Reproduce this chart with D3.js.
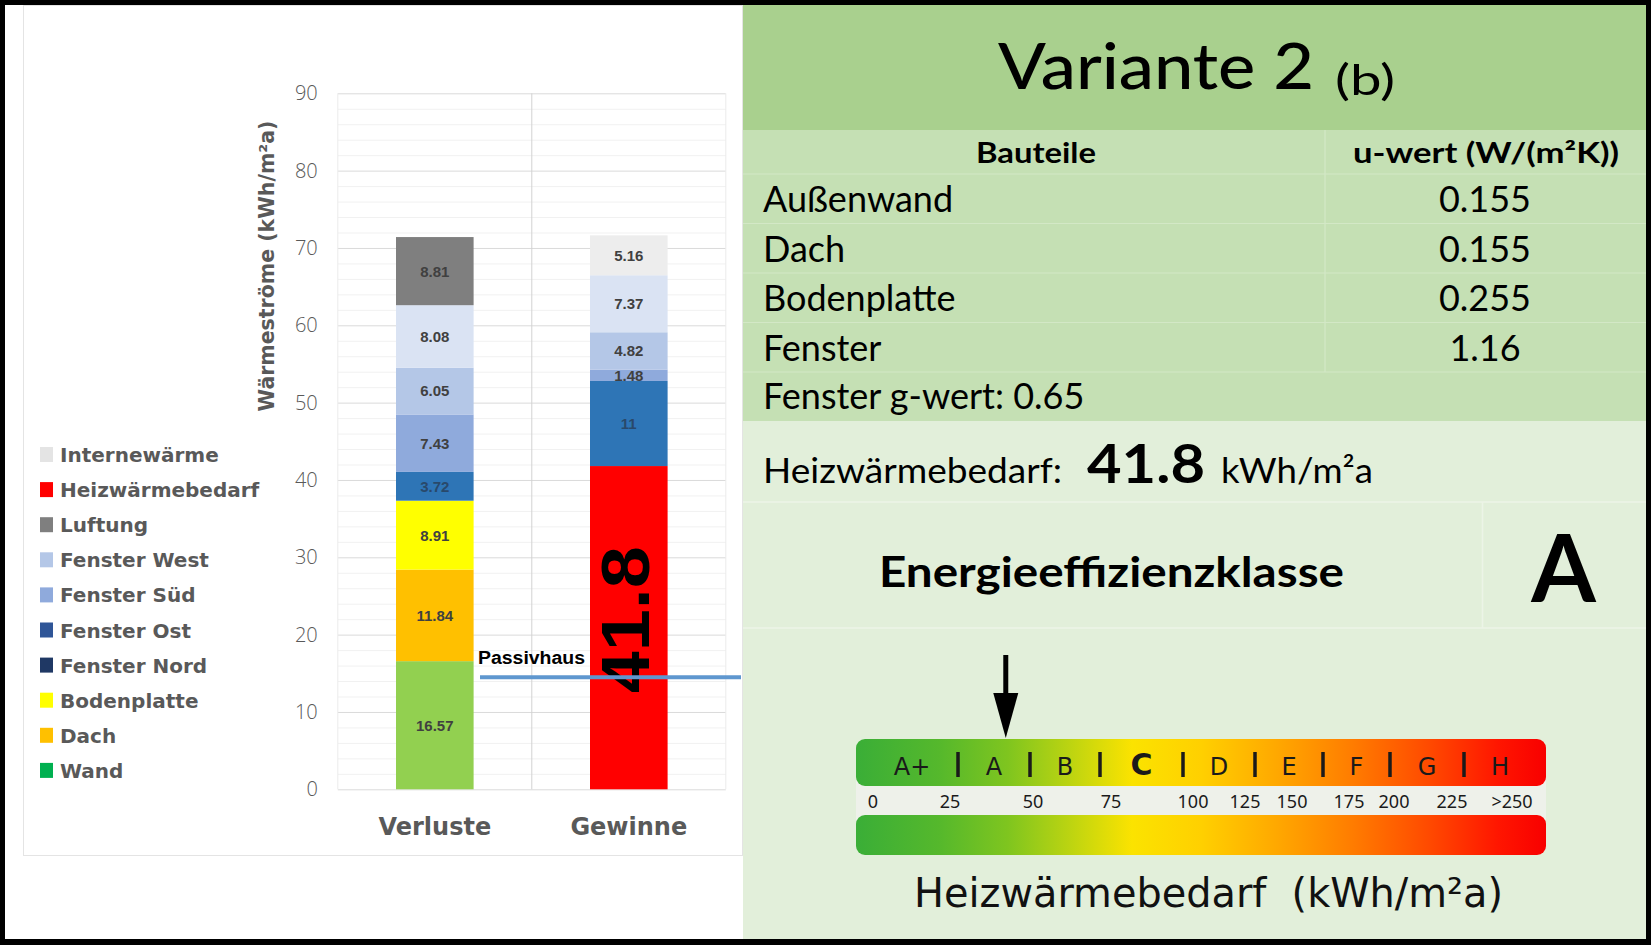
<!DOCTYPE html>
<html>
<head>
<meta charset="utf-8">
<script src="https://cdn.jsdelivr.net/npm/d3@7"></script>
<style>
  html, body { margin: 0; padding: 0; background: #000; }
  svg { display: block; }
</style>
</head>
<body>
<svg id="chart" width="1651" height="945"></svg>
<script>
// ---------- heat balance chart data ----------
const categories = ["Verluste", "Gewinne"];
const seriesNames = ["Wand", "Dach", "Bodenplatte", "Heizwärmebedarf", "Fenster Nord",
                     "Fenster Ost", "Fenster Süd", "Fenster West", "Luftung", "Internewärme"];
const verlusteValues = [16.57, 11.84, 8.91, 0, 3.72, 7.43, 6.05, 8.08, 8.81, 0];
const gewinneValues  = [0, 0, 0, 41.8, 11, 1.48, 4.82, 7.37, 0, 5.16];
const barColors = ["#92d050", "#ffc000", "#ffff00", "#ff0000", "#2e75b6",
                   "#8faadc", "#b4c7e7", "#dae3f3", "#7f7f7f", "#ededed"];
const legendNames = ["Internewärme", "Heizwärmebedarf", "Luftung", "Fenster West", "Fenster Süd",
                     "Fenster Ost", "Fenster Nord", "Bodenplatte", "Dach", "Wand"];
const legendColors = ["#e4e4e4", "#ff0000", "#7f7f7f", "#b4c7e7", "#8faadc",
                      "#2f5597", "#1f3864", "#ffff00", "#ffc000", "#00b050"];
const yTicks = [0, 10, 20, 30, 40, 50, 60, 70, 80, 90];
const yAxisTitle = "Wärmeströme (kWh/m²a)";
const passivhausLabel = "Passivhaus";
const passivhausValue = 14.5;
const highlightSeries = "Heizwärmebedarf";

// ---------- building data ----------
const variantTitle = "Variante 2";
const variantSub = "(b)";
const tableHeader = ["Bauteile", "u-wert (W/(m²K))"];
const bauteile = ["Außenwand", "Dach", "Bodenplatte", "Fenster"];
const uWerte = ["0.155", "0.155", "0.255", "1.16"];
const gWert = "0.65";
const heizwaermebedarf = 41.8;
const effizienzklasse = "A";

// ---------- energy class scale ----------
const klassen = ["A+", "A", "B", "C", "D", "E", "F", "G", "H"];
const skalaWerte = [0, 25, 50, 75, 100, 125, 150, 175, 200, 225, 250];
const skalaLabels = ["0", "25", "50", "75", "100", "125", "150", "175", "200", "225", ">250"];

const svg = d3.select("#chart");
const W = 1651, H = 945;

// frame
svg.append("rect").attr("width", W).attr("height", H).attr("fill", "#000");
svg.append("rect").attr("x", 5).attr("y", 5).attr("width", 738).attr("height", 934).attr("fill", "#fff");
svg.append("rect").attr("x", 23.5).attr("y", 5.5).attr("width", 719).attr("height", 850)
  .attr("fill", "none").attr("stroke", "#e4e4e4");

// ================= left: stacked bars =================
const plot = { left: 337.8, right: 725.8, top: 93.3, bottom: 789.3 };
const y = d3.scaleLinear().domain([0, 90]).range([plot.bottom, plot.top]);
const x = d3.scaleBand().domain(categories).range([plot.left, plot.right])
  .paddingInner(0.6).paddingOuter(0.3);

const color = d3.scaleOrdinal().domain(seriesNames).range(barColors);

const g = svg.append("g");

// minor grid every 2 units
const minor = d3.range(0, 91, 2).filter(v => v % 10 !== 0);
g.append("g").selectAll("line").data(minor).join("line")
  .attr("x1", plot.left).attr("x2", plot.right)
  .attr("y1", d => y(d) + 0.5).attr("y2", d => y(d) + 0.5)
  .attr("stroke", "#f1f1f1").attr("stroke-width", 1);

// major grid
g.append("g").selectAll("line").data(yTicks).join("line")
  .attr("x1", plot.left).attr("x2", plot.right)
  .attr("y1", d => y(d) + 0.5).attr("y2", d => y(d) + 0.5)
  .attr("stroke", "#dadada").attr("stroke-width", 1);

// vertical frame lines and category divider
const vlines = [
  { x: plot.left, c: "#ececec" },
  { x: (plot.left + plot.right) / 2, c: "#d2d2d2" },
  { x: plot.right, c: "#ececec" }
];
g.append("g").selectAll("line").data(vlines).join("line")
  .attr("x1", d => d.x).attr("x2", d => d.x)
  .attr("y1", plot.top).attr("y2", plot.bottom)
  .attr("stroke", d => d.c).attr("stroke-width", 1);

// y axis
const yAxis = g.append("g").attr("transform", `translate(${plot.left},0)`)
  .call(d3.axisLeft(y).tickValues(yTicks).tickSize(0).tickPadding(20));
yAxis.select(".domain").remove();
yAxis.selectAll("text")
  .attr("font-family", "'Open Sans', 'Liberation Sans', sans-serif")
  .attr("font-weight", 300)
  .attr("font-size", 20)
  .attr("fill", "#595959");

// y axis title
g.append("text")
  .attr("transform", `translate(274,266) rotate(-90)`)
  .attr("text-anchor", "middle")
  .attr("font-family", "'DejaVu Sans', sans-serif")
  .attr("font-weight", "bold")
  .attr("font-size", 20.5)
  .attr("fill", "#595959")
  .text(yAxisTitle);

// x axis labels
const xAxis = g.append("g").attr("transform", `translate(0,${plot.bottom})`)
  .call(d3.axisBottom(x).tickSize(0));
xAxis.select(".domain").remove();
xAxis.selectAll("text")
  .attr("y", 46).attr("dy", 0)
  .attr("font-family", "'DejaVu Sans', sans-serif")
  .attr("font-weight", "bold")
  .attr("font-size", 24)
  .attr("fill", "#595959");

// stacked data
const rows = categories.map((c, i) => {
  const vals = i === 0 ? verlusteValues : gewinneValues;
  const r = { category: c };
  seriesNames.forEach((s, j) => r[s] = vals[j]);
  return r;
});
const stacked = d3.stack().keys(seriesNames)(rows);

const layers = g.append("g").selectAll("g").data(stacked).join("g")
  .attr("fill", d => color(d.key));
layers.selectAll("rect").data(d => d.map(p => ({ key: d.key, p })))
  .join("rect")
  .attr("x", d => x(d.p.data.category))
  .attr("width", x.bandwidth())
  .attr("y", d => y(d.p[1]))
  .attr("height", d => y(d.p[0]) - y(d.p[1]));

// segment value labels (value taken straight from the series arrays)
const segs = [];
stacked.forEach(layer => layer.forEach(p => {
  const v = p.data[layer.key];
  if (v > 0 && layer.key !== highlightSeries) segs.push({ key: layer.key, p, v });
}));
g.append("g").selectAll("text").data(segs).join("text")
  .attr("x", d => x(d.p.data.category) + x.bandwidth() / 2)
  .attr("y", d => y((d.p[0] + d.p[1]) / 2))
  .attr("dy", "0.36em")
  .attr("text-anchor", "middle")
  .attr("font-family", "'Liberation Sans', Arial, sans-serif")
  .attr("font-weight", "bold")
  .attr("font-size", 15)
  .attr("fill", d => (d.key === "Fenster Nord" ? "#29496b" : "#404040"))
  .text(d => d.v);

// big label for the heating demand segment
const hIdx = seriesNames.indexOf(highlightSeries);
const hVal = gewinneValues[hIdx];
g.append("text")
  .attr("transform", `translate(${x("Gewinne") + x.bandwidth() / 2 + 20.5},${y(hVal / 2) - 8}) rotate(-90)`)
  .attr("text-anchor", "middle")
  .attr("font-family", "'Liberation Sans', Arial, sans-serif")
  .attr("font-weight", "bold")
  .attr("font-size", 68)
  .attr("textLength", 147)
  .attr("lengthAdjust", "spacingAndGlyphs")
  .attr("fill", "#000")
  .text(hVal);

// Passivhaus reference line
g.append("line")
  .attr("x1", 480).attr("x2", 741)
  .attr("y1", y(passivhausValue)).attr("y2", y(passivhausValue))
  .attr("stroke", "#5f97cf").attr("stroke-width", 4);
g.append("text")
  .attr("x", 478).attr("y", y(passivhausValue) - 13)
  .attr("font-family", "'Liberation Sans', Arial, sans-serif")
  .attr("font-weight", "bold")
  .attr("font-size", 18)
  .attr("textLength", 107)
  .attr("lengthAdjust", "spacingAndGlyphs")
  .attr("fill", "#000")
  .text(passivhausLabel);

// legend
const legend = g.append("g").selectAll("g").data(legendNames).join("g")
  .attr("transform", (d, i) => `translate(40,${462 + i * 35.1})`);
legend.append("rect")
  .attr("x", 0).attr("y", -15).attr("width", 13).attr("height", 15)
  .attr("fill", (d, i) => legendColors[i]);
legend.append("text")
  .attr("x", 20).attr("y", 0)
  .attr("font-family", "'DejaVu Sans', sans-serif")
  .attr("font-weight", "bold")
  .attr("font-size", 20)
  .attr("fill", "#595959")
  .text(d => d);

// ================= right: building summary =================
const R = svg.append("g");
const px0 = 743, px1 = 1646;
R.append("rect").attr("x", px0).attr("y", 5).attr("width", px1 - px0).attr("height", 125).attr("fill", "#a9d08e");
R.append("rect").attr("x", px0).attr("y", 130).attr("width", px1 - px0).attr("height", 291).attr("fill", "#c5e0b4");
R.append("rect").attr("x", px0).attr("y", 421).attr("width", px1 - px0).attr("height", 518).attr("fill", "#e2efda");

const bodyFont = "Lato, 'Open Sans', sans-serif";

// title
const title = R.append("text").attr("y", 89).attr("font-family", bodyFont).attr("fill", "#000");
title.append("tspan").attr("x", 998).attr("font-size", 64).attr("font-weight", 500)
  .attr("textLength", 316).attr("lengthAdjust", "spacingAndGlyphs").text(variantTitle);
title.append("tspan").attr("x", 1335).attr("dy", 6).attr("font-size", 42)
  .attr("textLength", 60).attr("lengthAdjust", "spacingAndGlyphs").text(variantSub);

// table grid
const rowBand = d3.scaleBand().domain(d3.range(bauteile.length)).range([174, 372]);
const rowLines = [174, ...bauteile.map((d, i) => rowBand(i) + rowBand.step())];
R.append("g").selectAll("line").data(rowLines).join("line")
  .attr("x1", px0).attr("x2", px1).attr("y1", d => d).attr("y2", d => d)
  .attr("stroke", "#d3e8c6").attr("stroke-width", 1.2);
R.append("line").attr("x1", 1325).attr("x2", 1325).attr("y1", 130).attr("y2", 372)
  .attr("stroke", "#d3e8c6").attr("stroke-width", 1.2);

// header row
R.append("text").attr("x", 1036).attr("y", 163).attr("text-anchor", "middle")
  .attr("font-family", bodyFont).attr("font-weight", "bold").attr("font-size", 28)
  .attr("textLength", 120).attr("lengthAdjust", "spacingAndGlyphs")
  .text(tableHeader[0]);
R.append("text").attr("x", 1486).attr("y", 163).attr("text-anchor", "middle")
  .attr("font-family", bodyFont).attr("font-weight", "bold").attr("font-size", 28)
  .attr("textLength", 266).attr("lengthAdjust", "spacingAndGlyphs")
  .text(tableHeader[1]);

// component rows
const rowG = R.append("g").selectAll("g").data(bauteile).join("g")
  .attr("transform", (d, i) => `translate(0,${rowBand(i) + 38})`);
rowG.append("text").attr("x", 763)
  .attr("font-family", bodyFont).attr("font-size", 36)
  .text(d => d);
rowG.append("text").attr("x", 1485).attr("text-anchor", "middle")
  .attr("font-family", bodyFont).attr("font-size", 36)
  .text((d, i) => uWerte[i]);

R.append("text").attr("x", 763).attr("y", 409)
  .attr("font-family", bodyFont).attr("font-size", 36)
  .text(`Fenster g-wert: ${gWert}`);

// heating demand line
const hw = R.append("text").attr("y", 483).attr("font-family", bodyFont).attr("fill", "#000");
hw.append("tspan").attr("x", 763).attr("font-size", 34)
  .attr("textLength", 299).attr("lengthAdjust", "spacingAndGlyphs").text("Heizwärmebedarf:");
hw.append("tspan").attr("x", 1087).attr("font-size", 54).attr("font-weight", "bold")
  .attr("textLength", 118).attr("lengthAdjust", "spacingAndGlyphs").text(heizwaermebedarf);
hw.append("tspan").attr("x", 1221).attr("font-size", 34)
  .attr("textLength", 152).attr("lengthAdjust", "spacingAndGlyphs").text("kWh/m²a");

// faint cell lines in lower section
R.append("line").attr("x1", px0).attr("x2", px1).attr("y1", 502).attr("y2", 502)
  .attr("stroke", "#ecf4e7").attr("stroke-width", 1.5);
R.append("line").attr("x1", px0).attr("x2", px1).attr("y1", 628).attr("y2", 628)
  .attr("stroke", "#ecf4e7").attr("stroke-width", 1.5);
R.append("line").attr("x1", 1482.5).attr("x2", 1482.5).attr("y1", 502).attr("y2", 628)
  .attr("stroke", "#ecf4e7").attr("stroke-width", 1.5);

R.append("text").attr("x", 879).attr("y", 587)
  .attr("font-family", bodyFont).attr("font-weight", "bold").attr("font-size", 42)
  .attr("textLength", 465).attr("lengthAdjust", "spacingAndGlyphs")
  .text("Energieeffizienzklasse");
R.append("text").attr("x", 1563.5).attr("y", 602).attr("text-anchor", "middle")
  .attr("font-family", bodyFont).attr("font-weight", "bold").attr("font-size", 93)
  .text(effizienzklasse);

// ---------- energy class bar ----------
const barX0 = 856, barX1 = 1546;
const eScale = d3.scaleLinear().domain(skalaWerte)
  .range([873, 950, 1033, 1111, 1193, 1245, 1292, 1349, 1394, 1452, 1512]);

const defs = svg.append("defs");
const grad = defs.append("linearGradient").attr("id", "klassenGrad")
  .attr("x1", "0%").attr("x2", "100%").attr("y1", "0%").attr("y2", "0%");
[
  [0, "#3aae37"], [0.12, "#55b82c"], [0.22, "#7fc51f"], [0.31, "#bcd411"],
  [0.40, "#fbe300"], [0.50, "#ffd000"], [0.61, "#ffa800"], [0.72, "#ff7c00"],
  [0.83, "#ff4a00"], [0.93, "#ff1600"], [1, "#f80000"]
].forEach(([o, c]) => grad.append("stop").attr("offset", o).attr("stop-color", c));

R.append("rect").attr("x", barX0).attr("y", 780).attr("width", barX1 - barX0).attr("height", 40)
  .attr("fill", "#eef1ea");
R.append("rect").attr("x", barX0).attr("y", 739).attr("width", barX1 - barX0).attr("height", 47)
  .attr("rx", 9).attr("fill", "url(#klassenGrad)");
R.append("rect").attr("x", barX0).attr("y", 815).attr("width", barX1 - barX0).attr("height", 40)
  .attr("rx", 9).attr("fill", "url(#klassenGrad)");

// class separators and letters
const sepX = [958, 1030, 1100, 1183, 1255, 1323, 1390, 1464];
R.append("g").selectAll("line").data(sepX).join("line")
  .attr("x1", d => d).attr("x2", d => d).attr("y1", 752).attr("y2", 777)
  .attr("stroke", "#1a1a1a").attr("stroke-width", 3.5);
const bounds = [866, ...sepX, 1536];
R.append("g").selectAll("text").data(klassen).join("text")
  .attr("x", (d, i) => (bounds[i] + bounds[i + 1]) / 2)
  .attr("y", 775)
  .attr("text-anchor", "middle")
  .attr("font-family", "'DejaVu Sans', sans-serif")
  .attr("font-weight", d => d === "C" ? "bold" : 500)
  .attr("font-size", d => d === "C" ? 30 : 24)
  .attr("fill", "#1a1a1a")
  .text(d => d);

// scale ticks
R.append("g").selectAll("text").data(skalaWerte).join("text")
  .attr("x", d => eScale(d))
  .attr("y", 808)
  .attr("text-anchor", "middle")
  .attr("font-family", "'Noto Sans', sans-serif")
  .attr("font-size", 18)
  .attr("fill", "#1a1a1a")
  .text((d, i) => skalaLabels[i]);

// marker arrow at the heating demand
const ax = eScale(heizwaermebedarf);
R.append("line").attr("x1", ax).attr("x2", ax).attr("y1", 655).attr("y2", 700)
  .attr("stroke", "#000").attr("stroke-width", 5);
R.append("path")
  .attr("d", `M${ax - 12.5},693 L${ax + 12.5},693 L${ax},738 Z`)
  .attr("fill", "#000");

// scale caption
R.append("text").attr("x", 914).attr("y", 907)
  .attr("font-family", "'DejaVu Sans', sans-serif").attr("font-size", 40)
  .attr("textLength", 589).attr("lengthAdjust", "spacingAndGlyphs")
  .attr("fill", "#111")
  .text("Heizwärmebedarf\u00a0\u00a0(kWh/m²a)");
</script>
</body>
</html>
